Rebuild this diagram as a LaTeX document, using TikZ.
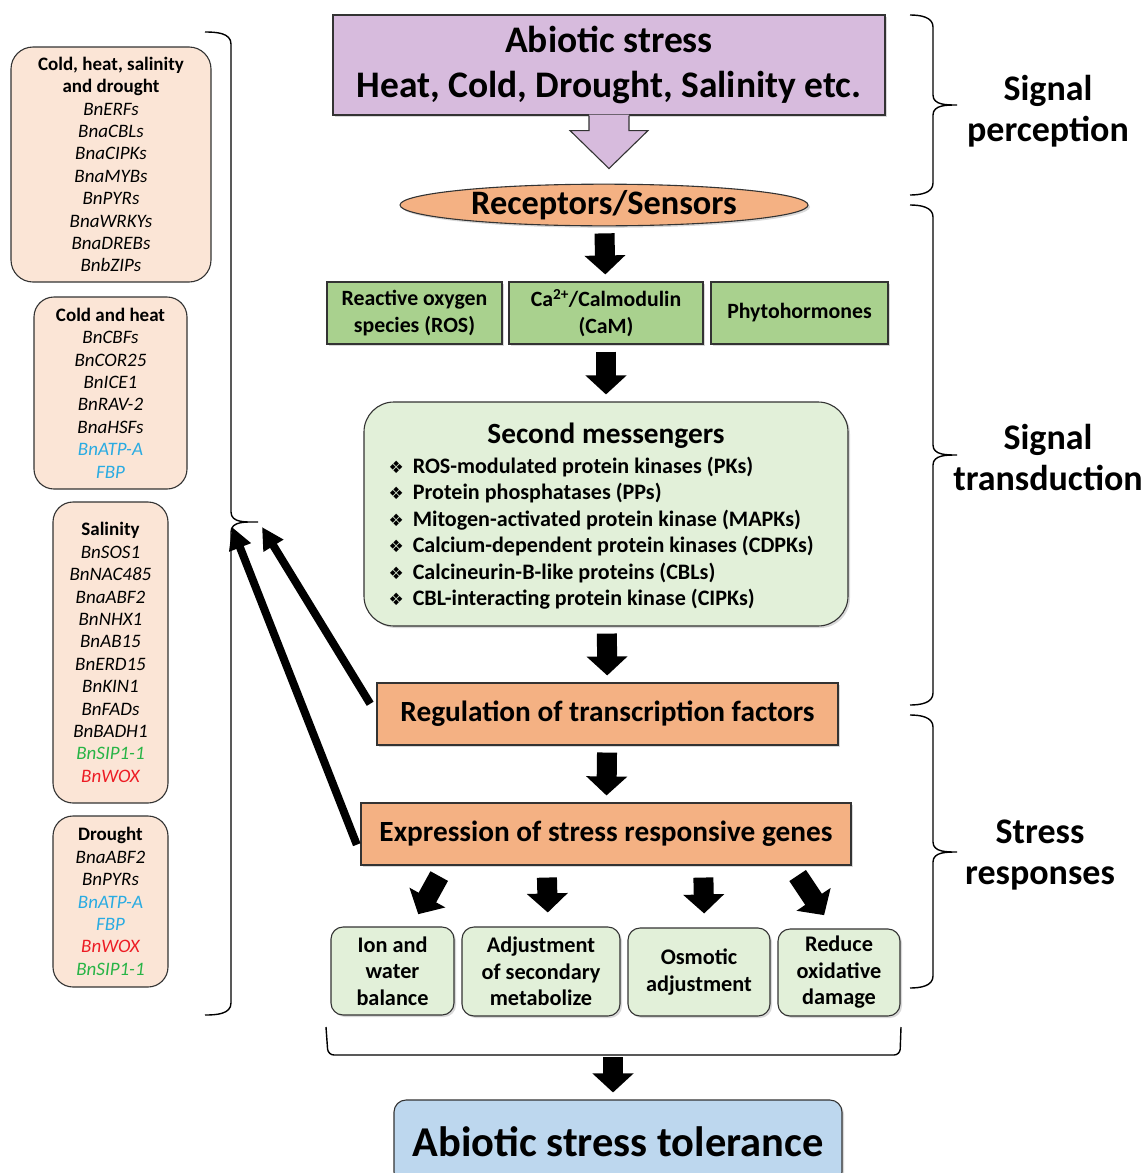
\documentclass[tikz,border=0pt]{standalone}
\usepackage{fontspec}
\setmainfont{Carlito}
\newfontfamily\symfont{DejaVu Sans}
\usetikzlibrary{shapes.geometric,arrows.meta,shadows}

\definecolor{stresspurple}{RGB}{215,187,221}
\definecolor{sensorange}{RGB}{244,177,131}
\definecolor{signalgreen}{RGB}{169,209,142}
\definecolor{palegreen}{RGB}{226,240,217}
\definecolor{genefill}{RGB}{251,229,214}
\definecolor{toleranceblue}{RGB}{189,215,238}
\definecolor{geneblue}{RGB}{41,171,226}
\definecolor{genegreen}{RGB}{40,180,70}
\definecolor{genered}{RGB}{237,28,36}

\newcommand{\hd}[1]{{\upshape\bfseries #1}}
\newcommand{\bul}{{\fontsize{17}{17}\symfont ❖}\hspace{9pt}}

\tikzset{
  box/.style={draw=black!80, line width=1.1pt, align=center, font=\bfseries, inner sep=0pt},
  shadebox/.style={box, drop shadow={shadow xshift=2pt, shadow yshift=-2pt, opacity=0.3}},
  genebox/.style={box, fill=genefill, rounded corners=22pt, font=\fontsize{19}{22.4}\selectfont\itshape},
  greenbox/.style={shadebox, fill=signalgreen, minimum height=62pt, font=\fontsize{21.8}{26.5}\selectfont\bfseries},
  resbox/.style={shadebox, fill=palegreen, rounded corners=12pt, font=\fontsize{22.3}{26.5}\selectfont\bfseries},
  tfbox/.style={shadebox, fill=sensorange, minimum height=62pt, font=\fontsize{29.3}{32}\selectfont\bfseries},
  sidelabel/.style={align=center, font=\fontsize{36}{41}\selectfont\bfseries},
  blk/.style={line width=20pt, -{Triangle[width=40pt,length=19pt]}, shorten <=7pt, shorten >=7pt},
  back/.style={line width=8pt, -{Triangle[width=22pt,length=22pt]}},
  brc/.style={line width=1.4pt},
}

\begin{document}
\begin{tikzpicture}[x=1pt, y=-1pt]
\useasboundingbox (0,0) rectangle (1145,1173);

% signal perception
\node[shadebox, fill=stresspurple, minimum width=552pt, minimum height=100pt,
      font=\fontsize{37.5}{45}\selectfont\bfseries] (stress) at (609,65)
      {Abiotic stress\\Heat, Cold, Drought, Salinity etc.};
\fill[stresspurple] ([xshift=-20pt,yshift=1pt]stress.south) -- ++(0,16) -- ++(-19,0)
      -- ++(39,38) -- ++(39,-38) -- ++(-19,0) -- ++(0,-16) -- cycle;
\draw[line width=1.1pt, draw=black!80] ([xshift=-20pt]stress.south) -- ++(0,15) -- ++(-19,0)
      -- ++(39,38) -- ++(39,-38) -- ++(-19,0) -- ++(0,-15);
\node[box, ellipse, fill=sensorange, minimum width=408pt, minimum height=41pt,
      font=\fontsize{34.3}{36}\selectfont\bfseries, drop shadow={shadow xshift=2pt, shadow yshift=-2pt, opacity=0.3}]
      (recep) at (604,205) {Receptors/Sensors};

% signal transduction
\node[greenbox, minimum width=175pt] (ros) at (414.5,313) {Reactive oxygen\\species (ROS)};
\node[greenbox, minimum width=194pt] (cam) at (606,313) {Ca\textsuperscript{2+}/Calmodulin\\(CaM)};
\node[greenbox, minimum width=177pt] (phyto) at (799.5,313) {Phytohormones};

\node[resbox, rounded corners=30pt, minimum width=484pt, minimum height=224pt] (msg) at (606,514) {};
\node[font=\fontsize{29.3}{32}\selectfont\bfseries] (msgtitle) at (606,436) {Second messengers};
\node[align=left, anchor=west, font=\fontsize{22.1}{26.5}\selectfont\bfseries] (msglist) at (385,533)
  {\bul ROS-modulated protein kinases (PKs)\\
   \bul Protein phosphatases (PPs)\\
   \bul Mitogen-activated protein kinase (MAPKs)\\
   \bul Calcium-dependent protein kinases (CDPKs)\\
   \bul Calcineurin-B-like proteins (CBLs)\\
   \bul CBL-interacting protein kinase (CIPKs)};

\node[tfbox, minimum width=461pt] (reg) at (607.5,714) {Regulation of transcription factors};
\node[tfbox, minimum width=490pt] (expr) at (606,834) {Expression of stress responsive genes};

% stress responses
\node[resbox, minimum width=123pt, minimum height=88pt] (ion) at (392.5,971) {Ion and\\water\\balance};
\node[resbox, minimum width=158pt, minimum height=89pt] (meta) at (541,971.5) {Adjustment\\of secondary\\metabolize};
\node[resbox, minimum width=142pt, minimum height=88pt] (osmo) at (699,972) {Osmotic\\adjustment};
\node[resbox, minimum width=122pt, minimum height=87pt] (redox) at (839,972.5) {Reduce\\oxidative\\damage};

\node[shadebox, fill=toleranceblue, rounded corners=12pt, minimum width=448pt, minimum height=84pt,
      font=\fontsize{42.5}{44}\selectfont\bfseries] (tol) at (618,1142) {Abiotic stress tolerance};

% block arrows
\draw[blk] (recep) -- (cam);
\draw[blk] (cam) -- (msg);
\draw[blk] (msg) -- (reg);
\draw[blk] (reg) -- (expr);
\draw[blk, shorten <=12pt, shorten >=14pt] ([xshift=-161pt]expr.south) -- ([xshift=19pt]ion.north);
\draw[blk, shorten <=12pt, shorten >=14pt] (expr.208) -- (meta.81);
\draw[blk, shorten <=12pt, shorten >=14pt] (expr.342) -- (osmo.83);
\draw[blk, shorten <=12pt, shorten >=16pt] ([xshift=185pt]expr.south) -- ([xshift=-6pt]redox.north);

\draw[brc, rounded corners=6pt] (326,1027) -- (328,1055) -- (900,1055) -- (901,1027);
\coordinate (brk) at (613,1055);
\draw[blk, shorten <=2pt] (brk) -- (brk |- tol.north);

% side braces
\draw[brc] (910,15) to[out=0,in=90] (933,27) -- (933,95) to[out=-90,in=180] (957,105)
           to[out=180,in=90] (933,115) -- (933,183) to[out=-90,in=0] (910,195);
\draw[brc] (910,205) to[out=0,in=90] (933,217) -- (933,445) to[out=-90,in=180] (957,455)
           to[out=180,in=90] (933,465) -- (933,693) to[out=-90,in=0] (910,705);
\draw[brc] (910,715) to[out=0,in=90] (933,727) -- (933,842) to[out=-90,in=180] (957,852)
           to[out=180,in=90] (933,862) -- (933,976) to[out=-90,in=0] (910,988);

\node[sidelabel] (percep) at (1048,111) {Signal\\perception};
\node[sidelabel] (transd) at (1048,457) {Signal\\transduction};
\node[sidelabel] (respon) at (1040,855) {Stress\\responses};

% gene boxes
\node[genebox, minimum width=200pt, minimum height=235pt] (allstress) at (111,164.5)
  {\hd{Cold, heat, salinity}\\\hd{and drought}\\BnERFs\\BnaCBLs\\BnaCIPKs\\BnaMYBs\\BnPYRs\\BnaWRKYs\\BnaDREBs\\BnbZIPs};
\node[genebox, rounded corners=20pt, minimum width=153pt, minimum height=192pt] (coldheat) at (110.5,393)
  {\hd{Cold and heat}\\BnCBFs\\BnCOR25\\BnICE1\\BnRAV-2\\BnaHSFs\\\textcolor{geneblue}{BnATP-A}\\\textcolor{geneblue}{FBP}};
\node[genebox, rounded corners=20pt, minimum width=115pt, minimum height=301pt] (salt) at (110.5,652.5)
  {\hd{Salinity}\\BnSOS1\\BnNAC485\\BnaABF2\\BnNHX1\\BnAB15\\BnERD15\\BnKIN1\\BnFADs\\BnBADH1\\\textcolor{genegreen}{BnSIP1-1}\\\textcolor{genered}{BnWOX}};
\node[genebox, rounded corners=20pt, minimum width=115pt, minimum height=171pt] (drought) at (110.5,901.5)
  {\hd{Drought}\\BnaABF2\\BnPYRs\\\textcolor{geneblue}{BnATP-A}\\\textcolor{geneblue}{FBP}\\\textcolor{genered}{BnWOX}\\\textcolor{genegreen}{BnSIP1-1}};

\draw[brc] (205,32) to[out=0,in=90] (231,44) -- (231,512) to[out=-90,in=180] (258,522)
           to[out=180,in=90] (231,532) -- (231,1003) to[out=-90,in=0] (205,1015);

% feedback arrows
\coordinate (hookA) at (262,527);
\coordinate (hookB) at (232,527);
\draw[back, shorten <=12pt] (reg.west) -- (hookA);
\draw[back, shorten <=10pt] ([yshift=-20pt]expr.west) -- (hookB);
\end{tikzpicture}
\end{document}
